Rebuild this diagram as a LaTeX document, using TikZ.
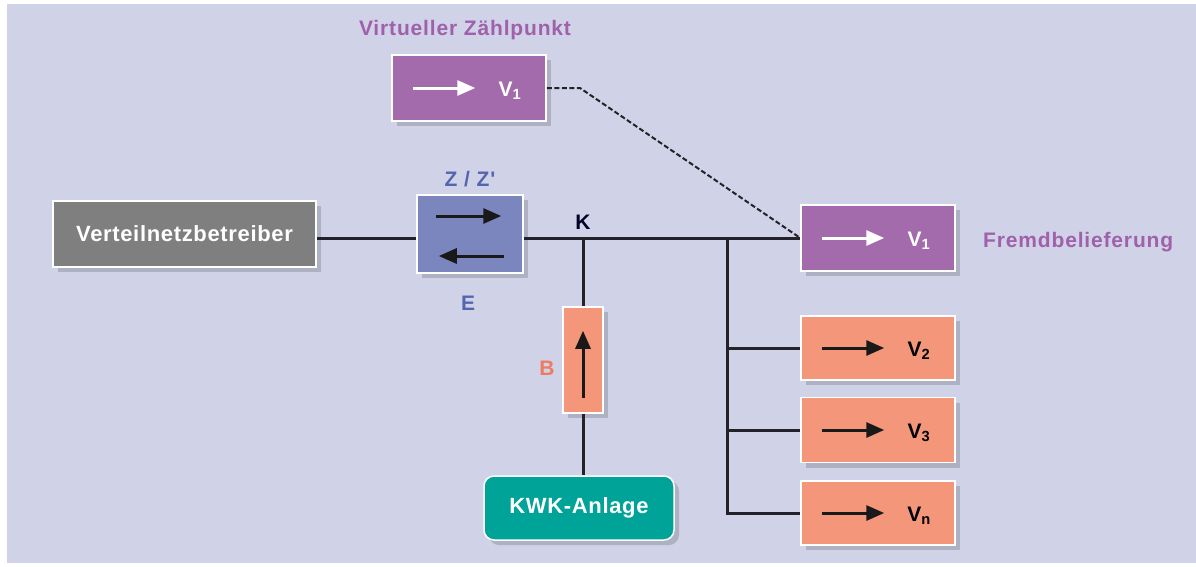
\documentclass[tikz,border=0pt]{standalone}
\usepackage{fontspec}
\setmainfont{Liberation Sans}
\newfontfamily\boxfont[LetterSpace=3]{Liberation Sans}
\newfontfamily\lblfont[LetterSpace=4]{Liberation Sans}
\usetikzlibrary{arrows.meta,shadows}
\definecolor{bgc}{HTML}{D0D3E7}
\definecolor{grayb}{HTML}{7F7F80}
\definecolor{blueb}{HTML}{7B86BF}
\definecolor{purpb}{HTML}{A46BAC}
\definecolor{orab}{HTML}{F4967A}
\definecolor{tealb}{HTML}{00A397}
\definecolor{purpt}{HTML}{A060AA}
\definecolor{bluet}{HTML}{5566B0}
\definecolor{orat}{HTML}{F07A60}
\definecolor{linec}{HTML}{222228}
\tikzset{
  box/.style={draw=white, line width=1.5pt, minimum width=154pt, minimum height=66pt, inner sep=0pt,
    drop shadow={shadow xshift=5pt, shadow yshift=-5pt, opacity=0.16, fill=black}},
  boxtext/.style={text=white, font=\boxfont\fontsize{22}{25}\selectfont\bfseries},
  vlab/.style={text=white, font=\fontsize{21}{24}\selectfont\bfseries, inner sep=0pt},
  vlabk/.style={text=black, font=\fontsize{21}{24}\selectfont\bfseries, inner sep=0pt},
  conn/.style={draw=linec, line width=3pt},
  warrow/.style={draw=white, line width=3pt, -{Triangle[length=18pt,width=15pt]}},
  karrow/.style={draw=black!90, line width=3pt, -{Triangle[length=18pt,width=15pt]}},
  lbl/.style={font=\lblfont\fontsize{21}{24}\selectfont\bfseries, inner sep=0pt},
}
\begin{document}
\begin{tikzpicture}[x=1pt,y=-1pt]
\useasboundingbox (0,0) rectangle (1196,566);
\fill[bgc] (7,4) rectangle (1196,563);

% coordinates
\coordinate (K) at (583,238);
\coordinate (bt) at (727,238);
\coordinate (bbot) at (727,513);
\coordinate (dbend) at (580,88);

% boxes
\node[box, fill=grayb, minimum width=263pt, boxtext] (vnb) at (184.5,234) {Verteilnetzbetreiber};
\node[box, fill=blueb, minimum width=106pt, minimum height=78pt] (zz) at (470,234) {};
\node[box, fill=purpb] (v1virt) at (469,88) {};
\node[box, fill=purpb] (v1f) at (878,238) {};
\node[box, fill=orab, minimum height=64pt] (v2) at (878,348) {};
\node[box, fill=orab, minimum height=65pt] (v3) at (878,430) {};
\node[box, fill=orab, minimum height=64pt] (vn) at (878,513) {};
\node[box, fill=orab, minimum width=40pt, minimum height=106pt] (bb) at (583,360) {};
\node[box, fill=tealb, minimum width=190pt, minimum height=64pt, rounded corners=10pt, boxtext] (kwk) at (579,508) {KWK-Anlage};

% texts
\node[lbl, text=purpt] (tvirt) at (465,30) {Virtueller Zählpunkt};
\node[lbl, text=purpt, anchor=west] (tfremd) at (983,242) {Fremdbelieferung};
\node[lbl, text=bluet] (tz) at (470,179) {Z / Z'};
\node[lbl, text=bluet] (te) at (468,303) {E};
\node[lbl, text=orat] (tb) at (547,368) {B};
\node[lbl, text=black!85!blue] (tk) at (583,222) {K};

% V labels
\node[vlab] (l1a) at (510,91) {V\textsubscript{1}};
\node[vlab] (l1b) at (919,241) {V\textsubscript{1}};
\node[vlabk] (l2) at (919,351) {V\textsubscript{2}};
\node[vlabk] (l3) at (919,433) {V\textsubscript{3}};
\node[vlabk] (ln) at (919,516) {V\textsubscript{n}};

% arrows inside boxes
\draw[warrow] ([xshift=22pt]v1virt.west) -- ++(62,0);
\draw[warrow] ([xshift=22pt]v1f.west) -- ++(62,0);
\draw[karrow] ([xshift=22pt]v2.west) -- ++(62,0);
\draw[karrow] ([xshift=22pt]v3.west) -- ++(62,0);
\draw[karrow] ([xshift=22pt]vn.west) -- ++(62,0);
\draw[karrow] ([xshift=20pt,yshift=18pt]zz.west) -- ++(65,0);
\draw[karrow] ([xshift=-20pt,yshift=-22pt]zz.east) -- ++(-65,0);
\draw[karrow] ([yshift=16pt]bb.south) -- ++(0,-67);

% connectors
\draw[conn] (vnb.east |- K) -- (zz.west |- K);
\draw[conn] (zz.east |- K) -- (v1f.west);
\draw[conn] (K) -- (bb.north);
\draw[conn] (bb.south) -- (bb.south |- kwk.north);
\draw[conn] (bt) -- (bbot) -- (vn.west);
\draw[conn] (bt |- v2.west) -- (v2.west);
\draw[conn] (bt |- v3.west) -- (v3.west);
\draw[draw=linec, line width=2pt, dash pattern=on 5pt off 2.5pt] (v1virt.east) -- (dbend) -- (v1f.west);
\end{tikzpicture}
\end{document}
